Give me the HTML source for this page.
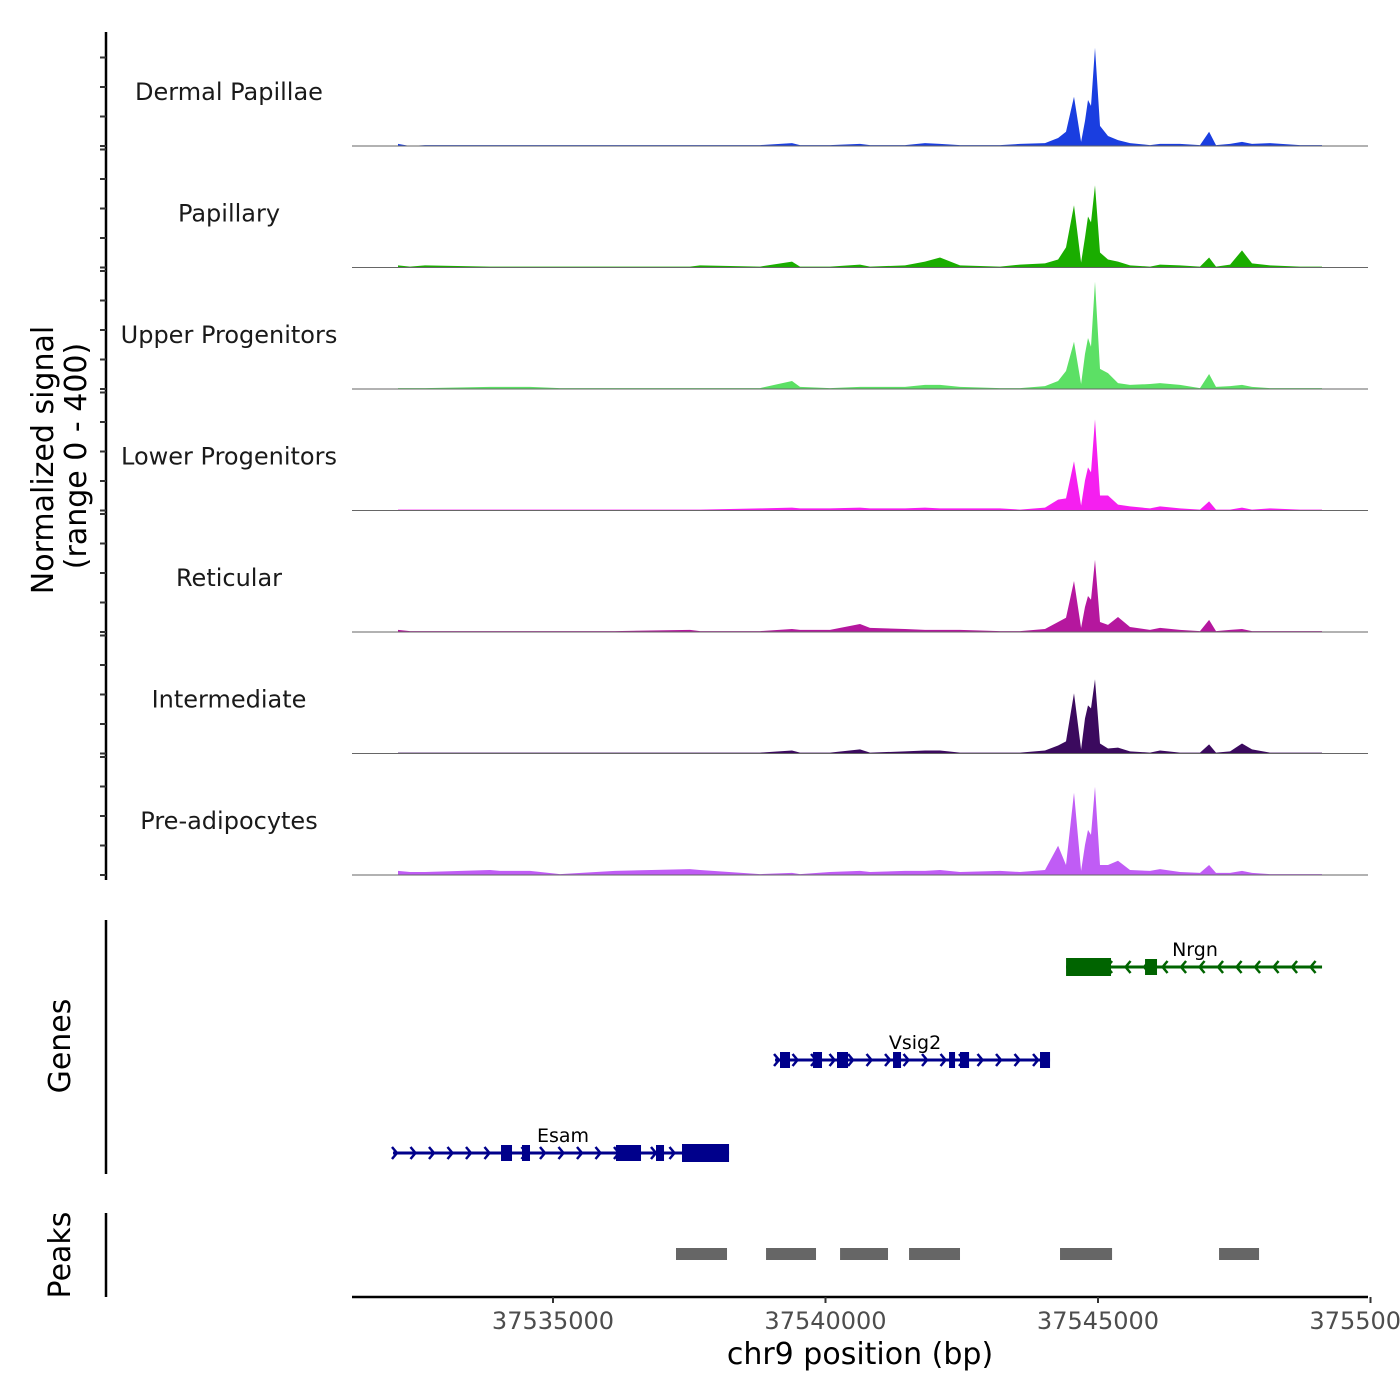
<!DOCTYPE html>
<html><head><meta charset="utf-8"><style>
html,body{margin:0;padding:0;background:#fff;}
svg{display:block;font-family:"DejaVu Sans","Liberation Sans",sans-serif;}
</style></head><body>
<svg id="chart" width="1400" height="1400" viewBox="0 0 1400 1400" xmlns="http://www.w3.org/2000/svg"></svg>
<script>
// ---- data ----
const trackNames = ["Dermal Papillae","Papillary","Upper Progenitors","Lower Progenitors","Reticular","Intermediate","Pre-adipocytes"];
const trackColors = ["#1a3ee0","#1aad00","#5ce065","#f51ff0","#b5179e","#3b0a5e","#c05cf5"];
const positions = [37532156,37532376,37532651,37533844,37534027,37534578,37535128,37536138,37537514,37537697,
37538798,37539386,37539532,37540083,37540633,37540817,37541459,37541826,37542101,37542468,
37543202,37543569,37544028,37544267,37544413,37544560,37544689,37544762,37544817,37544872,
37544945,37545036,37545183,37545367,37545587,37545955,37546138,37546505,37546872,37547038,
37547166,37547423,37547643,37547826,37548156,37548707,37549111];
const dermalPapillae = [7,0,3,3,3,3,3,3,3,3, 3,10,3,3,7,3,3,10,7,3, 3,7,10,27,48,167,14,85,156,136, 333,68,34,20,10,3,7,7,3,48, 3,7,14,7,10,3,3];
const papillary = [7,3,7,3,3,3,3,3,3,7, 3,20,3,3,10,3,7,20,34,7, 3,10,14,27,68,211,17,102,173,153, 279,51,27,20,7,3,10,7,3,34, 3,10,58,14,7,3,3];
const upperProgenitors = [3,3,3,7,7,7,3,3,3,3, 3,27,7,3,7,7,7,14,14,7, 3,3,10,27,61,160,17,119,173,143, 364,68,54,20,14,17,20,14,3,51, 7,10,14,7,3,3,3];
const lowerProgenitors = [3,3,3,3,3,3,3,3,3,3, 7,10,7,7,10,7,7,10,7,7, 7,3,10,37,41,167,17,102,146,129, 309,51,51,20,14,7,14,7,3,31, 3,3,10,3,7,3,3];
const reticular = [7,3,3,3,3,3,3,3,7,3, 3,10,7,7,27,14,10,7,7,7, 3,3,10,34,48,173,14,85,122,109, 245,34,24,51,17,7,14,7,3,41, 3,7,10,3,3,3,3];
const intermediate = [3,3,3,3,3,3,3,3,3,3, 3,10,3,3,14,3,7,10,10,3, 3,3,10,27,41,204,14,119,163,153, 252,34,17,20,7,3,10,3,3,31, 3,7,34,14,3,3,3];
const preAdipocytes = [14,10,10,17,14,14,3,14,20,17, 3,7,3,10,14,10,14,14,17,10, 14,10,17,99,34,279,14,102,153,136, 299,34,34,48,17,14,20,10,7,34, 7,7,14,7,3,3,3];
const xTicks = [37535000,37540000,37545000,37550000];
const yTicks = [0,100,200,300,400];
const geneNames = ["Nrgn","Vsig2","Esam"];
const geneStarts = [37544414,37539074,37532064];
const geneEnds = [37549111,37544120,37538230];
const geneStrands = [-1,1,1];
const geneExons = [
 [[37544414,37545239],[37545863,37546083]],
 [[37539165,37539349],[37539771,37539936],[37540211,37540413],[37541239,37541386],[37542267,37542377],[37542468,37542634],[37543936,37544120]],
 [[37534046,37534248],[37534431,37534578],[37536156,37536615],[37536890,37537037],[37537367,37538230]]
];
const peakStarts = [37537257,37538909,37540267,37541533,37544303,37547221];
const peakEnds = [37538193,37539826,37541147,37542468,37545258,37547955];

// ---- scales ----
const NS="http://www.w3.org/2000/svg";
const svg=document.getElementById('chart');
const xS = bp => 553 + (bp-37535000)/5000*272.5;
const baseY = k => 146 + k*121.5;
const yS = (k,v) => baseY(k) - v/400*118;
function mk(tag,attrs,parent){const e=document.createElementNS(NS,tag);for(const a in attrs)e.setAttribute(a,attrs[a]);(parent||svg).appendChild(e);return e;}

const series=[dermalPapillae,papillary,upperProgenitors,lowerProgenitors,reticular,intermediate,preAdipocytes];

// left axis
let ax=mk('line',{x1:106,y1:32,x2:106,y2:880,stroke:'#000','stroke-width':2.5});


for(let k=0;k<7;k++){
  for(const t of yTicks){
    const y=yS(k,t); if(y<32)continue;
    const tk=mk('line',{x1:100,y1:y,x2:106,y2:y,stroke:'#333','stroke-width':2});
    
    
  }
}

// tracks
for(let k=0;k<7;k++){
  const b=baseY(k);
  let d='M'+xS(positions[0])+','+b;
  for(let i=0;i<positions.length;i++) d+=' L'+xS(positions[i]).toFixed(1)+','+yS(k,series[k][i]).toFixed(1);
  d+=' L'+xS(positions[positions.length-1])+','+b+' Z';
  const p=mk('path',{d:d,fill:trackColors[k]});
  
  
  const bl=mk('line',{x1:352,y1:b,x2:1368,y2:b,stroke:'#666','stroke-width':1});
  
  
  const t=mk('text',{x:229,y:b-46,'text-anchor':'middle','font-size':24,fill:'#1a1a1a'});
  t.textContent=trackNames[k];
  
  
}

// y title
const yt=mk('text',{transform:'translate(53,460) rotate(-90)','text-anchor':'middle','font-size':30,fill:'#000'});
yt.textContent='Normalized signal';


const yt2=mk('text',{transform:'translate(86,456) rotate(-90)','text-anchor':'middle','font-size':30,fill:'#000'});
yt2.textContent='(range 0 - 400)';



// genes
const ga=mk('line',{x1:106,y1:920,x2:106,y2:1174,stroke:'#000','stroke-width':2.5});


const gt=mk('text',{transform:'translate(70,1046) rotate(-90)','text-anchor':'middle','font-size':30,fill:'#000'});
gt.textContent='Genes';


const geneColors=['#006400','#00008b','#00008b'];
const geneY=[967,1060,1153];
const labelX=[1195,915,563];
for(let g=0;g<3;g++){
  const c=geneColors[g],y=geneY[g],x1=xS(geneStarts[g]),x2=xS(geneEnds[g]);
  const grp=mk('g',{});
  
  
  mk('line',{x1:x1,y1:y,x2:x2,y2:y,stroke:c,'stroke-width':3},grp);
  for(let x=x1+4;x<x2-4;x+=18.5){
    const s=geneStrands[g]*5;
    mk('polyline',{points:(x-s)+','+(y-6)+' '+x+','+y+' '+(x-s)+','+(y+6),fill:'none',stroke:c,'stroke-width':2.5},grp);
  }
  for(const ex of geneExons[g]){
    const a=xS(ex[0]),b=xS(ex[1]);
    const h=(b-a)>30?18:16;
    mk('rect',{x:a,y:y-h/2,width:b-a,height:h,fill:c},grp);
  }
  const lab=mk('text',{x:labelX[g],y:y-11,'text-anchor':'middle','font-size':19,fill:'#000'},grp);
  lab.textContent=geneNames[g];
}

// peaks
const pa=mk('line',{x1:106,y1:1213,x2:106,y2:1297,stroke:'#000','stroke-width':2.5});


const pt=mk('text',{transform:'translate(70,1255) rotate(-90)','text-anchor':'middle','font-size':30,fill:'#000'});
pt.textContent='Peaks';


for(let i=0;i<peakStarts.length;i++){
  const r=mk('rect',{x:xS(peakStarts[i]),y:1248,width:xS(peakEnds[i])-xS(peakStarts[i]),height:12,fill:'#666'});
  
  
}

// x axis
const xa=mk('line',{x1:352,y1:1297,x2:1368,y2:1297,stroke:'#000','stroke-width':2.5});


for(const t of xTicks){
  const x=xS(t);
  const tk=mk('line',{x1:x,y1:1297,x2:x,y2:1303,stroke:'#333','stroke-width':2});
  
  
  const l=mk('text',{x:x,y:1329,'text-anchor':'middle','font-size':24,fill:'#4d4d4d'});
  l.textContent=String(t);
  
  
}
const xt=mk('text',{x:860,y:1364,'text-anchor':'middle','font-size':30,fill:'#000'});
xt.textContent='chr9 position (bp)';


</script>
</body></html>
